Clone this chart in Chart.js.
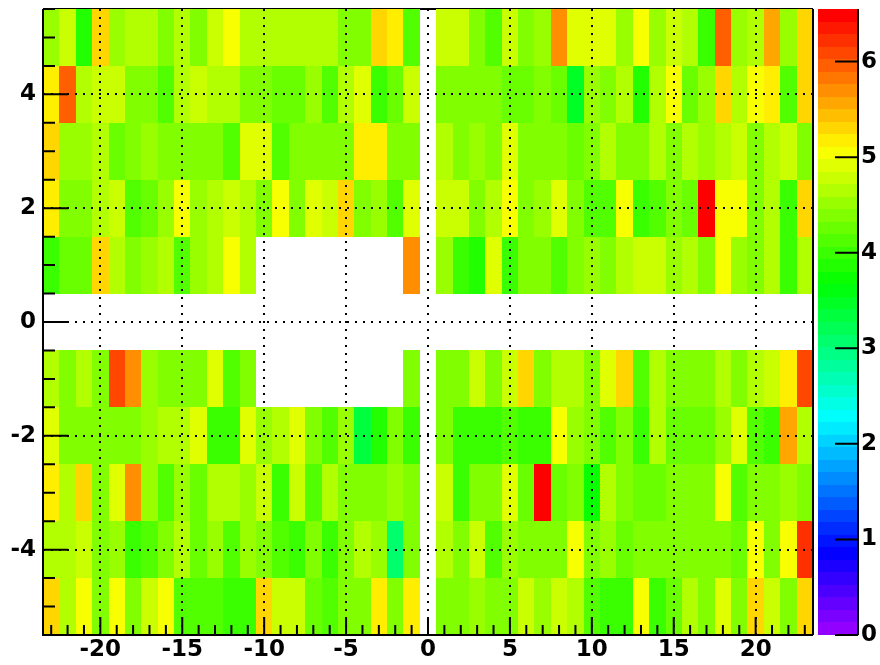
<!DOCTYPE html>
<html lang="en">
<head>
    <meta charset="UTF-8">
    <title>2D histogram</title>
    <script src="https://cdn.jsdelivr.net/npm/chart.js@4.4.0/dist/chart.umd.min.js"></script>
    <style>
        body {
            margin: 0;
            background: #ffffff;
        }
        #wrap {
            width: 880px;
            height: 665px;
        }
    </style>
</head>
<body>
    <div id="wrap">
        <canvas id="histo" width="880" height="665"></canvas>
    </div>

    <script>
        'use strict';

        // bin centres
        const xBins = [];
        for (let x = -23; x <= 23; x++) xBins.push(x);
        const yBins = [5, 4, 3, 2, 1, 0, -1, -2, -3, -4, -5];

        // tick labels
        const xTicks = [-20, -15, -10, -5, 0, 5, 10, 15, 20];
        const yTicks = [-4, -2, 0, 2, 4];
        const zTicks = [0, 1, 2, 3, 4, 5, 6];
        const zMax = 6.55;

        // cell contents, one array per row (x = -23 ... 23), null = empty bin
        const rowP5 = [4.52,4.8,3.86,5.36,4.52,4.71,4.61,4.43,4.61,4.43,4.8,4.99,
            4.61,4.61,4.61,4.61,4.61,4.71,4.43,4.33,5.36,5.23,4.15, null,
            4.8,4.8,4.33,4.15,4.8,4.43,4.52,5.74,4.89,4.89,4.89,4.52,
            4.99,4.52,4.8,4.71,4.05,6.02,4.52,4.71,5.55,4.52,5.36];
        const rowP4 = [5.17,6.02,4.61,4.8,4.8,4.33,4.33,4.15,4.61,4.8,4.71,4.71,
            4.33,4.43,4.24,4.24,4.52,4.15,4.61,4.89,4.05,4.24,4.8, null,
            4.33,4.43,4.43,4.43,4.24,4.24,4.43,4.24,3.49,4.52,4.33,4.71,
            3.86,4.71,5.08,4.24,4.52,5.36,4.71,5.08,5.17,4.15,5.36];
        const rowP3 = [5.27,4.52,4.52,4.71,4.24,4.33,4.52,4.33,4.43,4.43,4.43,4.15,
            4.89,4.89,4.15,4.33,4.43,4.43,4.43,5.2,5.2,4.43,4.43, null,
            4.71,4.33,4.52,4.43,4.89,4.33,4.43,4.33,4.24,4.43,4.71,4.33,
            4.43,4.61,4.43,4.61,4.52,4.61,4.8,4.33,4.61,4.8,4.33];
        const rowP2 = [5.17,4.33,4.33,4.61,4.8,4.15,4.24,4.52,4.99,4.52,4.61,4.8,
            4.71,4.33,5.08,4.43,4.89,4.8,5.29,4.43,4.52,4.15,4.89, null,
            4.8,4.8,4.33,4.71,4.99,4.33,4.52,4.89,4.43,4.15,4.15,5.08,
            3.96,4.15,4.33,4.24,6.48,5.08,5.08,4.43,4.61,4.05,5.36];
        const rowP1 = [4.05,4.24,4.24,5.36,4.61,4.43,4.52,4.61,4.15,4.52,4.71,4.99,
            4.61, null, null, null, null, null, null, null, null, null, 5.64, null,
            4.52,4.05,3.86,4.89,4.05,4.43,4.43,4.15,4.43,4.52,4.33,4.61,
            4.8,4.8,4.52,4.71,4.33,5.08,4.52,4.43,4.61,4.05,4.71];
        const row0 = xBins.map(() => null);
        const rowM1 = [4.61,4.33,4.61,4.33,6.11,5.74,4.52,4.33,4.43,4.33,4.89,4.15,
            4.43, null, null, null, null, null, null, null, null, null, 4.43, null,
            4.43,4.33,4.8,4.43,4.8,5.36,4.33,4.61,4.61,4.43,4.89,5.36,
            4.15,4.61,4.43,4.43,4.43,4.61,4.43,4.61,4.8,5.17,6.11];
        const rowM2 = [4.89,4.43,4.33,4.43,4.43,4.33,4.52,4.61,4.61,4.89,4.05,3.96,
            4.89,4.52,4.61,4.89,4.43,4.15,4.52,3.4,3.86,4.33,3.96, null,
            4.43,4.05,3.96,4.05,4.15,4.05,3.96,5.08,4.52,4.33,4.15,4.33,
            3.96,4.71,4.24,4.24,4.24,4.52,4.89,4.15,3.96,5.55,4.71];
        const rowM3 = [5.17,4.61,5.36,4.43,4.89,5.74,4.52,4.15,4.52,4.24,4.61,4.61,
            4.52,4.8,4.05,4.8,4.15,4.61,4.33,4.43,4.43,4.52,4.33, null,
            4.8,3.96,4.33,4.43,4.89,4.24,6.48,4.24,4.43,3.77,4.61,4.33,
            4.24,4.24,4.33,4.33,4.33,5.08,4.15,4.33,4.43,4.52,4.43];
        const rowM4 = [4.71,4.61,4.8,4.33,4.52,4.05,4.15,4.33,4.61,4.24,4.52,4.15,
            4.52,4.43,4.15,4.05,4.33,4.05,4.43,4.71,4.52,3.02,4.33, null,
            4.61,4.43,4.8,4.15,4.52,4.43,4.43,4.33,5.08,4.43,4.52,4.24,
            4.43,4.33,4.43,4.33,4.33,4.33,4.24,4.99,4.43,5.08,6.2];
        const rowM5 = [5.27,4.71,5.08,4.43,5.08,4.43,4.8,5.08,4.15,4.15,4.15,4.05,
            4.05,5.36,4.8,4.8,4.24,4.15,4.43,4.43,5.2,4.33,5.17, null,
            4.33,4.33,4.52,4.33,4.43,4.8,4.52,4.8,4.61,4.15,4.05,4.05,
            5.08,4.05,4.24,4.61,4.43,4.89,4.43,5.27,4.8,4.43,5.27];

        const rows = [rowP5, rowP4, rowP3, rowP2, rowP1, row0, rowM1, rowM2, rowM3, rowM4, rowM5];

        // ROOT "pretty" palette: 50 hues from violet to red
        const nColors = 50;
        function paletteColor(k) {
            const hue = 280 - (k + 1) * (280 / nColors);
            return 'hsl(' + hue + ', 100%, 50%)';
        }
        function colorFor(v) {
            const k = Math.min(nColors - 1, Math.floor(0.01 + v * nColors / zMax));
            return paletteColor(k);
        }

        // cells as points (centre + content)
        const cells = [];
        rows.forEach((row, r) => {
            row.forEach((v, c) => {
                if (v !== null) cells.push({ x: xBins[c], y: yBins[r], v: v });
            });
        });

        const labelFont = { family: 'DejaVu Sans', weight: 'bold', size: 23 };

        // axes get a fixed size and no label overhang padding
        function fixSize(prop, size) {
            return s => {
                s[prop] = size;
                s.paddingTop = 0;
                s.paddingBottom = 0;
                s.paddingLeft = 0;
                s.paddingRight = 0;
            };
        }

        // draws the bins as boxes and the top frame line below them
        const cellPlugin = {
            id: 'cells',
            beforeDatasetsDraw(chart) {
                const { ctx, chartArea } = chart;
                const xs = chart.scales.x, ys = chart.scales.y;
                ctx.save();
                ctx.strokeStyle = '#000';
                ctx.lineWidth = 2;
                ctx.beginPath();
                ctx.moveTo(chartArea.left, chartArea.top);
                ctx.lineTo(chartArea.right, chartArea.top);
                ctx.stroke();
                chart.data.datasets[0].data.forEach(p => {
                    const x0 = Math.round(xs.getPixelForValue(p.x - 0.5));
                    const x1 = Math.round(xs.getPixelForValue(p.x + 0.5));
                    const y0 = Math.round(ys.getPixelForValue(p.y - 0.5));
                    const y1 = Math.round(ys.getPixelForValue(p.y + 0.5));
                    ctx.fillStyle = colorFor(p.v);
                    ctx.fillRect(x0, y1, x1 - x0, y0 - y1);
                });
                ctx.restore();
            }
        };

        // frame, inside ticks and the colour bar
        const framePlugin = {
            id: 'frame',
            afterDraw(chart) {
                const { ctx, chartArea } = chart;
                const xs = chart.scales.x, ys = chart.scales.y, zs = chart.scales.zAxis;
                const { left, right, top, bottom } = chartArea;
                ctx.save();
                ctx.strokeStyle = '#000';
                ctx.lineWidth = 2;

                ctx.beginPath();
                ctx.moveTo(right, top);
                ctx.lineTo(right, bottom);
                ctx.moveTo(left, top);
                ctx.lineTo(left, bottom);
                ctx.lineTo(right, bottom);
                ctx.stroke();

                // x ticks
                ctx.beginPath();
                for (let v = -23; v <= 23; v++) {
                    const px = xs.getPixelForValue(v);
                    const len = xTicks.includes(v) ? 18 : 10;
                    ctx.moveTo(px, bottom);
                    ctx.lineTo(px, bottom - len);
                }
                // y ticks
                for (let v = -5.5; v <= 5.5; v += 0.5) {
                    const py = ys.getPixelForValue(v);
                    const len = yTicks.includes(v) ? 25 : 12;
                    ctx.moveTo(left, py);
                    ctx.lineTo(left + len, py);
                }
                ctx.stroke();

                // colour bar
                const bx0 = right + 5, bx1 = right + 45;
                for (let k = 0; k < nColors; k++) {
                    const yTop = Math.round(zs.getPixelForValue((k + 1) * zMax / nColors));
                    const yBot = Math.round(zs.getPixelForValue(k * zMax / nColors));
                    ctx.fillStyle = paletteColor(k);
                    ctx.fillRect(bx0, yTop, bx1 - bx0, yBot - yTop);
                }
                ctx.beginPath();
                ctx.moveTo(bx1, zs.getPixelForValue(zMax));
                ctx.lineTo(bx1, zs.getPixelForValue(0));
                zTicks.forEach(v => {
                    const py = zs.getPixelForValue(v);
                    ctx.moveTo(bx1, py);
                    ctx.lineTo(bx1 - 23, py);
                });
                ctx.stroke();
                ctx.restore();
            }
        };

        const gridOpts = { color: '#000', lineWidth: 2, drawTicks: false, z: 1 };

        new Chart(document.getElementById('histo'), {
            type: 'scatter',
            data: {
                datasets: [{
                    data: cells,
                    pointRadius: 0,
                    pointHoverRadius: 0
                }]
            },
            options: {
                responsive: false,
                animation: false,
                events: [],
                layout: { padding: { top: 9, left: 0, right: 0, bottom: 0 } },
                plugins: { legend: { display: false }, tooltip: { enabled: false } },
                scales: {
                    x: {
                        type: 'linear',
                        min: -23.5,
                        max: 23.5,
                        afterBuildTicks: s => { s.ticks = xTicks.map(v => ({ value: v })); },
                        afterFit: fixSize('height', 30),
                        grid: gridOpts,
                        border: { display: false, dash: [2, 6] },
                        ticks: { font: labelFont, color: '#000', padding: 1, autoSkip: false, maxRotation: 0,
                                 callback: v => String(v) }
                    },
                    y: {
                        type: 'linear',
                        min: -5.5,
                        max: 5.5,
                        afterBuildTicks: s => { s.ticks = yTicks.map(v => ({ value: v })); },
                        afterFit: fixSize('width', 43),
                        grid: gridOpts,
                        border: { display: false, dash: [2, 6] },
                        ticks: { font: labelFont, color: '#000', padding: 7, autoSkip: false,
                                 callback: v => String(v) }
                    },
                    zAxis: {
                        axis: 'y',
                        type: 'linear',
                        position: 'right',
                        min: 0,
                        max: zMax,
                        afterBuildTicks: s => { s.ticks = zTicks.map(v => ({ value: v })); },
                        afterFit: fixSize('width', 67),
                        grid: { display: false, drawTicks: false },
                        border: { display: false },
                        ticks: { font: labelFont, color: '#000', padding: 48, autoSkip: false,
                                 callback: v => String(v) }
                    }
                }
            },
            plugins: [cellPlugin, framePlugin]
        });
    </script>
</body>
</html>
